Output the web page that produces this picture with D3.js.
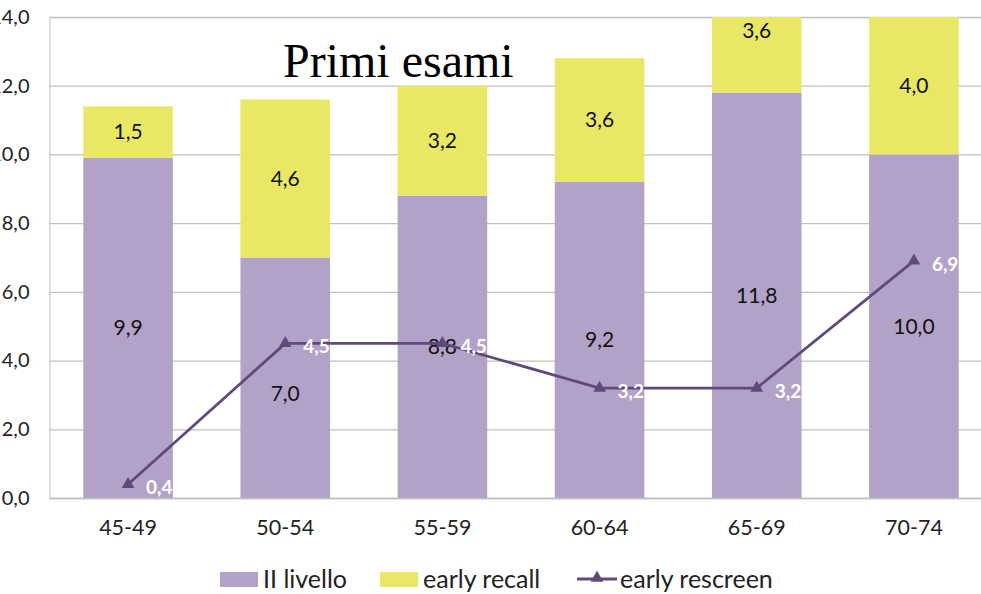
<!DOCTYPE html>
<html>
<head>
<meta charset="utf-8">
<script src="https://cdn.jsdelivr.net/npm/d3@7"></script>
<style>
  html, body { margin: 0; padding: 0; background: #fff; }
  svg { display: block; font-family: Lato, "Open Sans", sans-serif; }
</style>
</head>
<body>
<svg id="chart" width="981" height="594"></svg>
<script>
// dati
const categorie = ["45-49", "50-54", "55-59", "60-64", "65-69", "70-74"];
const livello2 = [9.9, 7.0, 8.8, 9.2, 11.8, 10.0];
const earlyRecall = [1.5, 4.6, 3.2, 3.6, 3.6, 4.0];
const earlyRescreen = [0.4, 4.5, 4.5, 3.2, 3.2, 6.9];
const yTicks = [0, 2, 4, 6, 8, 10, 12, 14];
const nomiSerie = ["II livello", "early recall", "early rescreen"];
const titolo = "Primi esami";

const colori = { livello: "#b3a2c7", recall: "#e8e866", linea: "#604a7b", griglia: "#bfbfbf" };
const fmt = v => d3.format(".1f")(v).replace(".", ",");

const svg = d3.select("#chart");
const plot = { left: 49.5, right: 992.5, top: 17, bottom: 498 };

const x = d3.scaleBand()
    .domain(categorie)
    .range([plot.left, plot.right])
    .paddingInner(0.43)
    .paddingOuter(0.215);

const y = d3.scaleLinear()
    .domain([0, 14])
    .range([plot.bottom, plot.top]);

svg.append("defs").append("clipPath").attr("id", "clip-plot")
    .append("rect")
    .attr("x", plot.left).attr("y", plot.top)
    .attr("width", plot.right - plot.left).attr("height", plot.bottom - plot.top);

// griglia + etichette asse y (il primo carattere resta fuori dal bordo come nell'originale)
const asseY = svg.append("g")
    .attr("transform", `translate(${plot.left},0)`)
    .call(d3.axisLeft(y).tickValues(yTicks).tickSize(-(plot.right - plot.left)).tickPadding(20).tickFormat(fmt));
asseY.select(".domain").attr("stroke", colori.griglia);
asseY.selectAll(".tick line").attr("stroke", colori.griglia).attr("stroke-width", 1.3);
asseY.selectAll(".tick text")
    .attr("fill", "#222").attr("font-size", "20px").attr("font-family", "Lato, sans-serif");

// barre impilate
const dati = categorie.map((c, i) => ({ cat: c, a: livello2[i], b: earlyRecall[i], r: earlyRescreen[i] }));
const barre = svg.append("g").attr("clip-path", "url(#clip-plot)");

barre.selectAll(".bar-liv")
    .data(dati).enter().append("rect")
    .attr("x", d => x(d.cat))
    .attr("width", x.bandwidth())
    .attr("y", d => y(d.a))
    .attr("height", d => y(0) - y(d.a))
    .attr("fill", colori.livello);

barre.selectAll(".bar-rec")
    .data(dati).enter().append("rect")
    .attr("x", d => x(d.cat))
    .attr("width", x.bandwidth())
    .attr("y", d => y(d.a + d.b))
    .attr("height", d => y(d.a) - y(d.a + d.b))
    .attr("fill", colori.recall);

// asse x
const asseX = svg.append("g")
    .attr("transform", `translate(0,${plot.bottom})`)
    .call(d3.axisBottom(x).tickSize(0).tickPadding(22));
asseX.select(".domain").attr("stroke", colori.griglia).attr("stroke-width", 1.3);
asseX.selectAll(".tick text")
    .attr("fill", "#222").attr("font-size", "21.5px").attr("font-family", "Lato, sans-serif");

// etichette barre
const cx = d => x(d.cat) + x.bandwidth() / 2;
svg.append("g").selectAll("text")
    .data(dati).enter().append("text")
    .attr("x", cx)
    .attr("y", d => y(d.a / 2) + (d.cat === "50-54" ? 16 : 0))
    .attr("dy", "0.35em")
    .attr("text-anchor", "middle")
    .attr("font-size", "21px").attr("fill", "#111")
    .text(d => fmt(d.a));

svg.append("g").selectAll("text")
    .data(dati).enter().append("text")
    .attr("x", cx)
    .attr("y", d => y(d.a + d.b / 2))
    .attr("dy", "0.35em")
    .attr("text-anchor", "middle")
    .attr("font-size", "21px").attr("fill", "#111")
    .text(d => fmt(d.b));

// titolo
svg.append("text")
    .attr("x", 283).attr("y", 77)
    .attr("font-family", "'Liberation Serif', 'Times New Roman', serif")
    .attr("font-size", "48px").attr("fill", "#000")
    .text(titolo);

// linea early rescreen
const linea = d3.line().x(cx).y(d => y(d.r));
svg.append("path")
    .datum(dati)
    .attr("d", linea)
    .attr("fill", "none")
    .attr("stroke", colori.linea)
    .attr("stroke-width", 2.8);

const triangolo = d3.symbol().type(d3.symbolTriangle).size(70);
svg.append("g").selectAll("path")
    .data(dati).enter().append("path")
    .attr("transform", d => `translate(${cx(d)},${y(d.r)})`)
    .attr("d", triangolo)
    .attr("fill", colori.linea);

svg.append("g").selectAll("text")
    .data(dati).enter().append("text")
    .attr("x", d => cx(d) + 18)
    .attr("y", d => y(d.r) + 3)
    .attr("dy", "0.35em")
    .attr("font-size", "19px").attr("font-weight", "bold").attr("fill", "#fff")
    .text(d => fmt(d.r));

// legenda
const leg = svg.append("g").attr("font-size", "25px").attr("fill", "#222");
leg.append("rect").attr("x", 220).attr("y", 572).attr("width", 38).attr("height", 15).attr("fill", colori.livello);
leg.append("text").attr("x", 263).attr("y", 579).attr("dy", "0.35em").text(nomiSerie[0]);
leg.append("rect").attr("x", 380).attr("y", 572).attr("width", 38).attr("height", 15).attr("fill", colori.recall);
leg.append("text").attr("x", 423).attr("y", 579).attr("dy", "0.35em").text(nomiSerie[1]);
leg.append("line").attr("x1", 577).attr("x2", 617).attr("y1", 579).attr("y2", 579)
    .attr("stroke", colori.linea).attr("stroke-width", 2.8);
leg.append("path").attr("transform", "translate(597,578)").attr("d", triangolo).attr("fill", colori.linea);
leg.append("text").attr("x", 620).attr("y", 579).attr("dy", "0.35em").text(nomiSerie[2]);
</script>
</body>
</html>
